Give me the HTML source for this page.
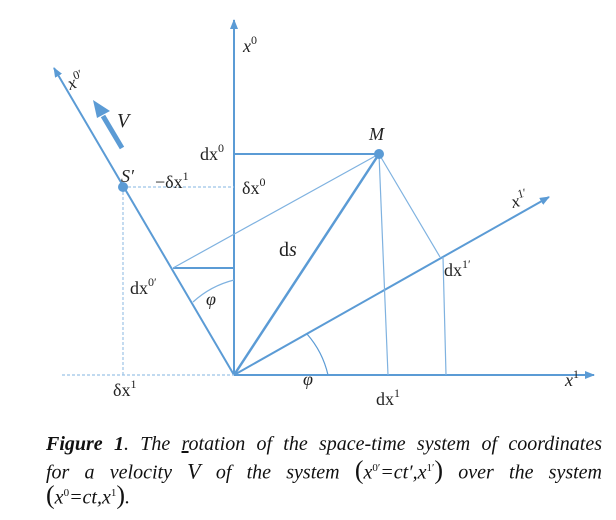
<!DOCTYPE html>
<html><head><style>
body{margin:0;background:#fff;width:616px;height:520px;overflow:hidden;position:relative;font-family:"Liberation Serif",serif}
.cap{position:absolute;left:46px;width:556px;font-style:italic;font-size:20px;line-height:24px;text-align:justify;text-align-last:justify;color:#111;white-space:nowrap}
.cap.j{white-space:normal}
</style></head><body>
<svg width="616" height="430" style="position:absolute;left:0;top:0" font-family="Liberation Serif, serif" fill="#222">
<defs><marker id="a" markerWidth="10" markerHeight="8" refX="9" refY="4" orient="auto" markerUnits="userSpaceOnUse"><path d="M0,0L10,4L0,8z" fill="#5b9bd5"/></marker></defs>
<g stroke="#5b9bd5" fill="none">
<line x1="234" y1="375" x2="234" y2="20" stroke-width="2" marker-end="url(#a)"/>
<line x1="234" y1="375" x2="594" y2="375" stroke-width="2" marker-end="url(#a)"/>
<line x1="234" y1="375" x2="54" y2="68" stroke-width="2" marker-end="url(#a)"/>
<line x1="234" y1="375" x2="549" y2="197" stroke-width="2" marker-end="url(#a)"/>
<line x1="234" y1="375" x2="379" y2="154" stroke-width="2.5"/>
<line x1="234" y1="154" x2="379" y2="154" stroke-width="2"/>
<line x1="173" y1="268" x2="234" y2="268" stroke-width="2"/>
<line x1="173" y1="268" x2="379" y2="154" stroke-width="1.2" stroke="#7fb2e0"/>
<line x1="379" y1="154" x2="388" y2="375" stroke-width="1.2" stroke="#7fb2e0"/>
<line x1="379" y1="154" x2="440" y2="257" stroke-width="1.2" stroke="#7fb2e0"/>
<line x1="443" y1="257" x2="446" y2="375" stroke-width="1.2" stroke="#7fb2e0"/>
<path d="M307,334 A94,94 0 0 1 328,375" stroke-width="1.2"/>
<path d="M193,302 A95,95 0 0 1 234,280" stroke-width="1.2" stroke="#7fb2e0"/>
<g stroke-dasharray="3,2" stroke-width="1.2" stroke="#9cc3e6">
<line x1="123" y1="187" x2="234" y2="187"/>
<line x1="123" y1="187" x2="123" y2="375"/>
<line x1="62" y1="375" x2="234" y2="375"/>
</g>
<line x1="122" y1="148" x2="103" y2="116" stroke-width="5"/>
</g>
<path d="M93,100 L110,111 L97,118z" fill="#5b9bd5"/>
<circle cx="379" cy="154" r="5" fill="#5b9bd5"/>
<circle cx="123" cy="187" r="5" fill="#5b9bd5"/>
<g font-size="18">
<text x="243" y="52" font-style="italic">x<tspan font-size="12" dy="-8" font-style="normal">0</tspan></text>
<text x="70" y="90" font-style="italic" transform="rotate(-20 70 90)">x<tspan font-size="12" dy="-8" font-style="normal">0′</tspan></text>
<text x="117" y="127" font-style="italic" font-size="20">V</text>
<text x="121" y="182" font-style="italic">S′</text>
<text x="155" y="188">−δx<tspan font-size="12" dy="-8">1</tspan></text>
<text x="200" y="160">dx<tspan font-size="12" dy="-8">0</tspan></text>
<text x="242" y="194">δx<tspan font-size="12" dy="-8">0</tspan></text>
<text x="369" y="140" font-style="italic">M</text>
<text x="279" y="256" font-size="20">d<tspan font-style="italic">s</tspan></text>
<text x="513" y="208" font-style="italic" transform="rotate(-15 513 208)">x<tspan font-size="12" dy="-8" font-style="normal">1′</tspan></text>
<text x="444" y="276">dx<tspan font-size="12" dy="-8">1′</tspan></text>
<text x="130" y="294">dx<tspan font-size="12" dy="-8">0′</tspan></text>
<text x="206" y="305" font-style="italic">φ</text>
<text x="303" y="385" font-style="italic">φ</text>
<text x="565" y="386" font-style="italic">x<tspan font-size="12" dy="-8" font-style="normal">1</tspan></text>
<text x="376" y="405">dx<tspan font-size="12" dy="-8">1</tspan></text>
<text x="113" y="396">δx<tspan font-size="12" dy="-8">1</tspan></text>
</g>
</svg>
<div class="cap j" style="top:432px"><b>Figure 1</b>. The <u>r</u>otation of the space-time system of coordinates</div>
<div class="cap j" style="top:456px">for a velocity <span style="font-size:22px">V</span> of the system <span style="font-size:26px;font-style:normal">(</span>x<sup style="font-size:11px;font-style:normal">0′</sup>=ct′,x<sup style="font-size:11px;font-style:normal">1′</sup><span style="font-size:26px;font-style:normal">)</span> over the system</div>
<div class="cap" style="top:481px;text-align-last:left"><span style="font-size:26px;font-style:normal">(</span>x<sup style="font-size:11px;font-style:normal">0</sup>=ct,x<sup style="font-size:11px;font-style:normal">1</sup><span style="font-size:26px;font-style:normal">)</span>.</div>
</body></html>
